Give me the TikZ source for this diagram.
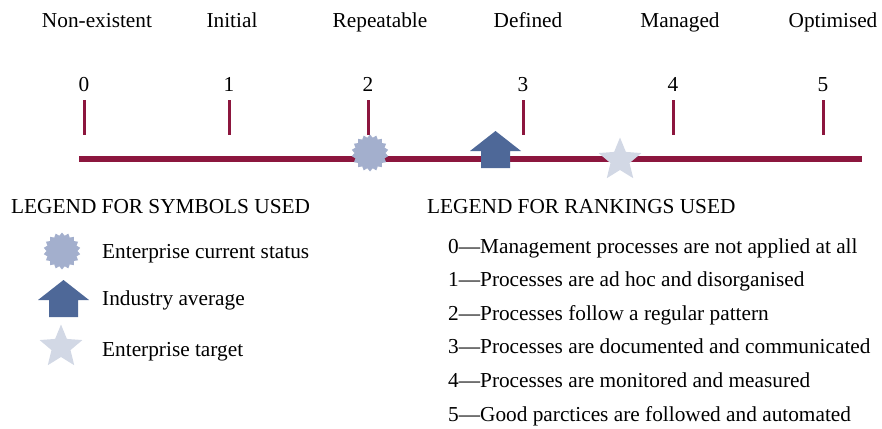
\documentclass[tikz,border=0pt]{standalone}
\usepackage{fontspec}
\setmainfont{Liberation Serif}
\usepackage{tikz}
\usetikzlibrary{calc}

\definecolor{scalered}{RGB}{140,22,62}
\definecolor{burstblue}{RGB}{163,175,205}
\definecolor{arrowblue}{RGB}{78,104,152}
\definecolor{starblue}{RGB}{210,216,229}

\tikzset{
  txt/.style={font=\fontsize{21.3}{25}\selectfont, inner sep=0pt}
}

% spiky shape: centre, points, outer radius, inner radius, colour
\newcommand{\spiky}[5]{%
\pgfmathtruncatemacro{\nk}{2*#2-1}
\fill[#5] ($(#1)+(-90:#3)$) \foreach \k [evaluate=\k as \rr using {mod(\k,2)==0 ? #3 : #4}] in {1,...,\nk} { -- ($(#1)+({-90+\k*180/#2}:\rr)$) } -- cycle;
}

\begin{document}
\begin{tikzpicture}[x=1pt,y=-1pt]
\useasboundingbox (0,0) rectangle (882,428);
\pgfmathsetmacro{\H}{14.5} % half width of arrow shaft

% reference node
\node (r) at (0,0) {};

% scale line
\coordinate (s0) at (79,159);
\coordinate (s1) at (862,159);
\draw[scalered, line width=6pt] (s0) -- (s1);

% ticks, numbers and level names
\foreach \x/\lx/\lab [count=\i from 0] in {84/97/Non-existent,229/232/Initial,368/380/Repeatable,523/528/Defined,673/680/Managed,823/833/Optimised}
{
\node[txt, anchor=base] (lev\i) at ($(r)+(\lx,28)$) {\lab};
\node[txt, anchor=base] (num\i) at ($(r)+(\x,91)$) {\i};
\draw[scalered, line width=3pt] ($(r)+(\x,100)$) -- ($(r)+(\x,135)$);
}

% symbols on the scale
\coordinate (cur) at (370,153);
\coordinate (tgt) at (620,160);
\coordinate (avg) at (495.5,131);

% legend for symbols
\node[txt, anchor=base west] (symhead) at (11,213) {LEGEND FOR SYMBOLS USED};
\coordinate (legcur) at (62,251);
\coordinate (legavg) at (63.5,280);
\coordinate (legtgt) at (61,347);
\node[txt, anchor=base west] (curtxt) at (102,258) {Enterprise current status};
\node[txt, anchor=base west] (avgtxt) at (102,305) {Industry average};
\node[txt, anchor=base west] (tgttxt) at (102,356) {Enterprise target};

% current status bursts and target stars
\foreach \c in {cur,legcur} {\spiky{\c}{18}{18.5}{15.5}{burstblue}}
\foreach \c in {tgt,legtgt} {\spiky{\c}{5}{22.5}{10}{starblue}}

% industry average arrows
\foreach \a in {avg,legavg}
{
\fill[arrowblue] (\a) -- ($(\a)+(25.5,20)$) -- ($(\a)+(\H,20)$) -- ($(\a)+(\H,37)$)
  -- ($(\a)+(-\H,37)$) -- ($(\a)+(-\H,20)$) -- ($(\a)+(-25.5,20)$) -- cycle;
}

% legend for rankings
\node[txt, anchor=base west] (rankhead) at (427,213) {LEGEND FOR RANKINGS USED};
\foreach \t [count=\i from 0] in {Management processes are not applied at all,Processes are ad hoc and disorganised,Processes follow a regular pattern,Processes are documented and communicated,Processes are monitored and measured,Good parctices are followed and automated}
{
\node[txt, anchor=base west] (rank\i) at ($(r)+(448,253+\i*33.6)$) {\i---\t};
}

\end{tikzpicture}
\end{document}
